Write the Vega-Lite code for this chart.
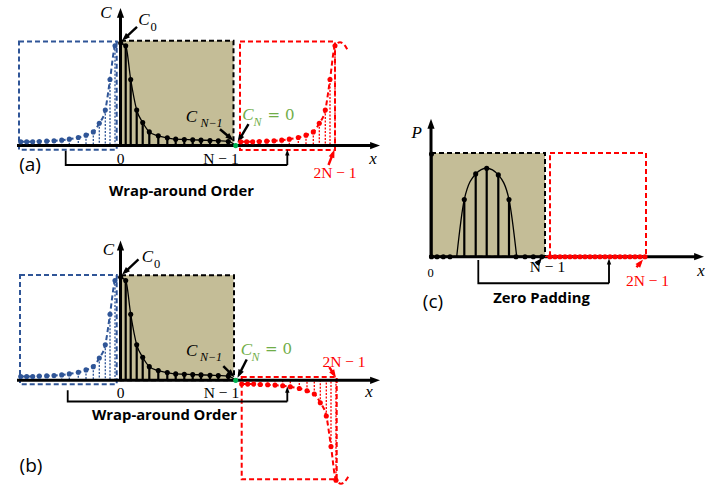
{
  "$schema": "https://vega.github.io/schema/vega-lite/v6.json",
  "width": 706,
  "height": 488,
  "autosize": {"type": "fit", "contains": "padding"},
  "padding": 0,
  "background": "white",
  "config": {"view": {"stroke": null}},
  "datasets": {
    "tan": [
      {"x": 121, "x2": 233.5, "y": 41, "y2": 146.5},
      {"x": 121, "x2": 233.5, "y": 277, "y2": 382.7},
      {"x": 431, "x2": 545, "y": 154, "y2": 258.3}
    ],
    "boxes": [
      {"s": "b", "x": 19, "x2": 116.7, "y": 41.7, "y2": 150.7},
      {"s": "k", "x": 121, "x2": 233.5, "y": 41, "y2": 146.5},
      {"s": "r", "x": 240, "x2": 335, "y": 41.7, "y2": 151},
      {"s": "b", "x": 20, "x2": 116.7, "y": 276.7, "y2": 386.7},
      {"s": "k", "x": 121, "x2": 234, "y": 277, "y2": 382.7},
      {"s": "r", "x": 241.7, "x2": 336.7, "y": 379.3, "y2": 482.3},
      {"s": "k", "x": 431, "x2": 545, "y": 154, "y2": 258.3},
      {"s": "r", "x": 550, "x2": 646, "y": 154, "y2": 258.3}
    ],
    "samples": [
      {"p": "a", "s": "b", "x": 20.7, "y": 142.7, "b": 146.5},
      {"p": "a", "s": "b", "x": 26.7, "y": 142.7, "b": 146.5},
      {"p": "a", "s": "b", "x": 32.7, "y": 142.7, "b": 146.5},
      {"p": "a", "s": "b", "x": 39.3, "y": 142.3, "b": 146.5},
      {"p": "a", "s": "b", "x": 46.7, "y": 142, "b": 146.5},
      {"p": "a", "s": "b", "x": 54, "y": 141.7, "b": 146.5},
      {"p": "a", "s": "b", "x": 61.7, "y": 141, "b": 146.5},
      {"p": "a", "s": "b", "x": 69.3, "y": 140, "b": 146.5},
      {"p": "a", "s": "b", "x": 78.3, "y": 138.3, "b": 146.5},
      {"p": "a", "s": "b", "x": 86, "y": 136, "b": 146.5},
      {"p": "a", "s": "b", "x": 93.3, "y": 132.7, "b": 146.5},
      {"p": "a", "s": "b", "x": 99.3, "y": 124, "b": 146.5},
      {"p": "a", "s": "b", "x": 105.3, "y": 110.7, "b": 146.5},
      {"p": "a", "s": "b", "x": 110, "y": 80, "b": 146.5},
      {"p": "a", "s": "b", "x": 115, "y": 46, "b": 146.5},
      {"p": "a", "s": "b", "x": 118, "y": 42, "e": 1},
      {"p": "a", "s": "k", "x": 120.7, "y": 43.3, "b": 146.5},
      {"p": "a", "s": "k", "x": 125.7, "y": 46, "b": 146.5},
      {"p": "a", "s": "k", "x": 130.7, "y": 80, "b": 146.5},
      {"p": "a", "s": "k", "x": 136.7, "y": 110.7, "b": 146.5},
      {"p": "a", "s": "k", "x": 142.7, "y": 123.3, "b": 146.5},
      {"p": "a", "s": "k", "x": 149.3, "y": 132.7, "b": 146.5},
      {"p": "a", "s": "k", "x": 158.3, "y": 136.7, "b": 146.5},
      {"p": "a", "s": "k", "x": 167.3, "y": 138.7, "b": 146.5},
      {"p": "a", "s": "k", "x": 175.7, "y": 140, "b": 146.5},
      {"p": "a", "s": "k", "x": 184.3, "y": 140.3, "b": 146.5},
      {"p": "a", "s": "k", "x": 192.7, "y": 140.7, "b": 146.5},
      {"p": "a", "s": "k", "x": 201, "y": 141, "b": 146.5},
      {"p": "a", "s": "k", "x": 210, "y": 141.3, "b": 146.5},
      {"p": "a", "s": "k", "x": 218.3, "y": 141.7, "b": 146.5},
      {"p": "a", "s": "k", "x": 228.3, "y": 142.3, "b": 146.5},
      {"p": "a", "s": "k", "x": 235.7, "y": 146.3, "e": 1},
      {"p": "a", "s": "g", "x": 235.7, "y": 146.5, "b": 146.5},
      {"p": "a", "s": "r", "x": 240.7, "y": 142.7, "b": 146.5},
      {"p": "a", "s": "r", "x": 246.7, "y": 142.7, "b": 146.5},
      {"p": "a", "s": "r", "x": 252.7, "y": 142.7, "b": 146.5},
      {"p": "a", "s": "r", "x": 259.3, "y": 142.3, "b": 146.5},
      {"p": "a", "s": "r", "x": 266.7, "y": 142, "b": 146.5},
      {"p": "a", "s": "r", "x": 274, "y": 141.7, "b": 146.5},
      {"p": "a", "s": "r", "x": 281.7, "y": 141, "b": 146.5},
      {"p": "a", "s": "r", "x": 289.3, "y": 140, "b": 146.5},
      {"p": "a", "s": "r", "x": 298.3, "y": 138.3, "b": 146.5},
      {"p": "a", "s": "r", "x": 306, "y": 136, "b": 146.5},
      {"p": "a", "s": "r", "x": 313.3, "y": 132.7, "b": 146.5},
      {"p": "a", "s": "r", "x": 319.3, "y": 124, "b": 146.5},
      {"p": "a", "s": "r", "x": 325.3, "y": 110.7, "b": 146.5},
      {"p": "a", "s": "r", "x": 330, "y": 80, "b": 146.5},
      {"p": "a", "s": "r", "x": 335, "y": 46, "b": 146.5},
      {"p": "a", "s": "r", "x": 340, "y": 42.5, "e": 1},
      {"p": "a", "s": "r", "x": 345, "y": 46, "e": 1},
      {"p": "a", "s": "r", "x": 348.5, "y": 52, "e": 1},

      {"p": "b", "s": "b", "x": 20.7, "y": 378.9, "b": 382.7},
      {"p": "b", "s": "b", "x": 26.7, "y": 378.9, "b": 382.7},
      {"p": "b", "s": "b", "x": 32.7, "y": 378.9, "b": 382.7},
      {"p": "b", "s": "b", "x": 39.3, "y": 378.5, "b": 382.7},
      {"p": "b", "s": "b", "x": 46.7, "y": 378.2, "b": 382.7},
      {"p": "b", "s": "b", "x": 54, "y": 377.9, "b": 382.7},
      {"p": "b", "s": "b", "x": 61.7, "y": 377.2, "b": 382.7},
      {"p": "b", "s": "b", "x": 69.3, "y": 376.2, "b": 382.7},
      {"p": "b", "s": "b", "x": 78.3, "y": 374.5, "b": 382.7},
      {"p": "b", "s": "b", "x": 86, "y": 372.2, "b": 382.7},
      {"p": "b", "s": "b", "x": 93.3, "y": 368.9, "b": 382.7},
      {"p": "b", "s": "b", "x": 99.3, "y": 360.2, "b": 382.7},
      {"p": "b", "s": "b", "x": 105.3, "y": 346.9, "b": 382.7},
      {"p": "b", "s": "b", "x": 110, "y": 316.2, "b": 382.7},
      {"p": "b", "s": "b", "x": 115, "y": 282.2, "b": 382.7},
      {"p": "b", "s": "b", "x": 118, "y": 278, "e": 1},
      {"p": "b", "s": "k", "x": 120.7, "y": 279, "b": 382.7},
      {"p": "b", "s": "k", "x": 125.7, "y": 282.2, "b": 382.7},
      {"p": "b", "s": "k", "x": 130.7, "y": 316.2, "b": 382.7},
      {"p": "b", "s": "k", "x": 136.7, "y": 346.9, "b": 382.7},
      {"p": "b", "s": "k", "x": 142.7, "y": 359.5, "b": 382.7},
      {"p": "b", "s": "k", "x": 149.3, "y": 368.9, "b": 382.7},
      {"p": "b", "s": "k", "x": 158.3, "y": 372.9, "b": 382.7},
      {"p": "b", "s": "k", "x": 167.3, "y": 374.9, "b": 382.7},
      {"p": "b", "s": "k", "x": 175.7, "y": 376.2, "b": 382.7},
      {"p": "b", "s": "k", "x": 184.3, "y": 376.5, "b": 382.7},
      {"p": "b", "s": "k", "x": 192.7, "y": 376.9, "b": 382.7},
      {"p": "b", "s": "k", "x": 201, "y": 377.2, "b": 382.7},
      {"p": "b", "s": "k", "x": 210, "y": 377.5, "b": 382.7},
      {"p": "b", "s": "k", "x": 218.3, "y": 377.9, "b": 382.7},
      {"p": "b", "s": "k", "x": 228.3, "y": 378.5, "b": 382.7},
      {"p": "b", "s": "k", "x": 235.7, "y": 382.5, "e": 1},
      {"p": "b", "s": "g", "x": 235.7, "y": 382.7, "b": 382.7},
      {"p": "b", "s": "r", "x": 241.7, "y": 386.5, "b": 382.7},
      {"p": "b", "s": "r", "x": 247.7, "y": 386.5, "b": 382.7},
      {"p": "b", "s": "r", "x": 253.7, "y": 386.5, "b": 382.7},
      {"p": "b", "s": "r", "x": 260.3, "y": 386.9, "b": 382.7},
      {"p": "b", "s": "r", "x": 267.7, "y": 387.2, "b": 382.7},
      {"p": "b", "s": "r", "x": 275, "y": 387.5, "b": 382.7},
      {"p": "b", "s": "r", "x": 282.7, "y": 388.2, "b": 382.7},
      {"p": "b", "s": "r", "x": 290.3, "y": 389.2, "b": 382.7},
      {"p": "b", "s": "r", "x": 299.3, "y": 390.9, "b": 382.7},
      {"p": "b", "s": "r", "x": 307, "y": 393.2, "b": 382.7},
      {"p": "b", "s": "r", "x": 314.3, "y": 396.5, "b": 382.7},
      {"p": "b", "s": "r", "x": 320.3, "y": 405.2, "b": 382.7},
      {"p": "b", "s": "r", "x": 326.3, "y": 418.5, "b": 382.7},
      {"p": "b", "s": "r", "x": 331, "y": 449.2, "b": 382.7},
      {"p": "b", "s": "r", "x": 336, "y": 483.2, "b": 382.7},
      {"p": "b", "s": "r", "x": 341, "y": 486.7, "e": 1},
      {"p": "b", "s": "r", "x": 346, "y": 483.2, "e": 1},
      {"p": "b", "s": "r", "x": 349.5, "y": 477.2, "e": 1},

      {"p": "c", "s": "k0", "x": 431.5, "y": 155, "b": 258.3},
      {"p": "c", "s": "k0", "x": 431.5, "y": 258.3, "b": 258.3},
      {"p": "c", "s": "k0", "x": 437, "y": 258.3, "b": 258.3},
      {"p": "c", "s": "k0", "x": 443.3, "y": 258.3, "b": 258.3},
      {"p": "c", "s": "k0", "x": 450, "y": 258.3, "b": 258.3},
      {"p": "c", "s": "k", "x": 456.7, "y": 258.3, "e": 1},
      {"p": "c", "s": "k", "x": 464.3, "y": 200.7, "b": 258.3},
      {"p": "c", "s": "k", "x": 475.7, "y": 175, "b": 258.3},
      {"p": "c", "s": "k", "x": 486.7, "y": 169.3, "b": 258.3},
      {"p": "c", "s": "k", "x": 498.3, "y": 176, "b": 258.3},
      {"p": "c", "s": "k", "x": 509, "y": 200.7, "b": 258.3},
      {"p": "c", "s": "k", "x": 516.7, "y": 258.3, "e": 1},
      {"p": "c", "s": "k0", "x": 516, "y": 258.3, "b": 258.3},
      {"p": "c", "s": "k0", "x": 525, "y": 258.3, "b": 258.3},
      {"p": "c", "s": "k0", "x": 533.3, "y": 258.3, "b": 258.3},
      {"p": "c", "s": "k0", "x": 541.7, "y": 258.3, "b": 258.3},
      {"p": "c", "s": "r0", "x": 550, "y": 258.3, "b": 258.3},
      {"p": "c", "s": "r0", "x": 555, "y": 258.3, "b": 258.3},
      {"p": "c", "s": "r0", "x": 560, "y": 258.3, "b": 258.3},
      {"p": "c", "s": "r0", "x": 565, "y": 258.3, "b": 258.3},
      {"p": "c", "s": "r0", "x": 570, "y": 258.3, "b": 258.3},
      {"p": "c", "s": "r0", "x": 575, "y": 258.3, "b": 258.3},
      {"p": "c", "s": "r0", "x": 580, "y": 258.3, "b": 258.3},
      {"p": "c", "s": "r0", "x": 585, "y": 258.3, "b": 258.3},
      {"p": "c", "s": "r0", "x": 590, "y": 258.3, "b": 258.3},
      {"p": "c", "s": "r0", "x": 595, "y": 258.3, "b": 258.3},
      {"p": "c", "s": "r0", "x": 600, "y": 258.3, "b": 258.3},
      {"p": "c", "s": "r0", "x": 605, "y": 258.3, "b": 258.3},
      {"p": "c", "s": "r0", "x": 610, "y": 258.3, "b": 258.3},
      {"p": "c", "s": "r0", "x": 615, "y": 258.3, "b": 258.3},
      {"p": "c", "s": "r0", "x": 620, "y": 258.3, "b": 258.3},
      {"p": "c", "s": "r0", "x": 625, "y": 258.3, "b": 258.3},
      {"p": "c", "s": "r0", "x": 630, "y": 258.3, "b": 258.3},
      {"p": "c", "s": "r0", "x": 635, "y": 258.3, "b": 258.3},
      {"p": "c", "s": "r0", "x": 640, "y": 258.3, "b": 258.3},
      {"p": "c", "s": "r0", "x": 645, "y": 258.3, "b": 258.3}
    ],
    "arrows": [
      {"s": "k", "k": "axis", "x1": 17, "y1": 146.5, "x2": 380, "y2": 146.5},
      {"s": "k", "k": "axis", "x1": 120.5, "y1": 147.5, "x2": 120.5, "y2": 8},
      {"s": "k", "k": "ptr", "x1": 137, "y1": 27, "x2": 122, "y2": 41},
      {"s": "k", "k": "ptr", "x1": 220, "y1": 130, "x2": 233.5, "y2": 141.5},
      {"s": "k", "k": "ptr", "x1": 248.5, "y1": 125, "x2": 237.5, "y2": 143.5},
      {"s": "k", "k": "brk", "x1": 287.3, "y1": 166, "x2": 287.3, "y2": 150.5},
      {"s": "r", "k": "ptr", "x1": 328.5, "y1": 166, "x2": 334.5, "y2": 150.5},
      {"s": "k", "k": "axis", "x1": 17, "y1": 382.7, "x2": 380, "y2": 382.7},
      {"s": "k", "k": "axis", "x1": 120.5, "y1": 383.5, "x2": 120.5, "y2": 242},
      {"s": "k", "k": "ptr", "x1": 138.5, "y1": 261, "x2": 122, "y2": 276.5},
      {"s": "k", "k": "ptr", "x1": 223.3, "y1": 368.3, "x2": 234.5, "y2": 379.5},
      {"s": "k", "k": "ptr", "x1": 246.7, "y1": 361.7, "x2": 237.5, "y2": 380},
      {"s": "k", "k": "brk", "x1": 287.3, "y1": 404, "x2": 287.3, "y2": 389},
      {"s": "r", "k": "ptr", "x1": 329.3, "y1": 369.3, "x2": 336, "y2": 380},
      {"s": "k", "k": "axis", "x1": 429, "y1": 258.3, "x2": 704, "y2": 258.3},
      {"s": "k", "k": "axis", "x1": 431, "y1": 259.5, "x2": 431, "y2": 119.5},
      {"s": "r", "k": "seg", "x1": 545, "y1": 258.3, "x2": 646, "y2": 258.3},
      {"s": "k", "k": "ptr", "x1": 536.5, "y1": 266, "x2": 542, "y2": 259.5},
      {"s": "r", "k": "ptr", "x1": 636.5, "y1": 269, "x2": 643, "y2": 261},
      {"s": "k", "k": "brk", "x1": 609, "y1": 285, "x2": 609, "y2": 260}
    ],
    "brackets": [
      {"id": "a", "o": 1, "x": 65.7, "y": 151.7},
      {"id": "a", "o": 2, "x": 65.7, "y": 166},
      {"id": "a", "o": 3, "x": 287.3, "y": 166},
      {"id": "b", "o": 1, "x": 67.7, "y": 392.7},
      {"id": "b", "o": 2, "x": 67.7, "y": 404},
      {"id": "b", "o": 3, "x": 287.3, "y": 404},
      {"id": "c", "o": 1, "x": 478.3, "y": 261.7},
      {"id": "c", "o": 2, "x": 478.3, "y": 285},
      {"id": "c", "o": 3, "x": 609, "y": 285}
    ],
    "texts": [
      {"x": 106, "y": 13.5, "t": "C", "f": "it", "s": "k"},
      {"x": 144, "y": 20.5, "t": "C", "f": "it", "s": "k"},
      {"x": 153.5, "y": 27, "t": "0", "f": "subr", "s": "k"},
      {"x": 191.5, "y": 117.5, "t": "C", "f": "it", "s": "k"},
      {"x": 211.5, "y": 123.5, "t": "N−1", "f": "sub", "s": "k"},
      {"x": 248, "y": 116, "t": "C", "f": "it", "s": "gt"},
      {"x": 257.5, "y": 122.5, "t": "N", "f": "sub", "s": "gt"},
      {"x": 281, "y": 115.5, "t": "= 0", "f": "eq", "s": "gt"},
      {"x": 120.5, "y": 159.5, "t": "0", "f": "num", "s": "k"},
      {"x": 221, "y": 159.5, "t": "N − 1", "f": "num", "s": "k"},
      {"x": 335, "y": 174.5, "t": "2N − 1", "f": "num", "s": "r"},
      {"x": 373, "y": 160, "t": "x", "f": "it", "s": "k"},
      {"x": 30, "y": 166.5, "t": "(a)", "f": "lab", "s": "k"},
      {"x": 181.5, "y": 193, "t": "Wrap-around Order", "f": "cap", "s": "k"},
      {"x": 108.5, "y": 251.5, "t": "C", "f": "it", "s": "k"},
      {"x": 147.5, "y": 259, "t": "C", "f": "it", "s": "k"},
      {"x": 157, "y": 265.5, "t": "0", "f": "subr", "s": "k"},
      {"x": 191.7, "y": 353, "t": "C", "f": "it", "s": "k"},
      {"x": 211, "y": 359.5, "t": "N−1", "f": "sub", "s": "k"},
      {"x": 246.5, "y": 352.5, "t": "C", "f": "it", "s": "gt"},
      {"x": 255.5, "y": 359, "t": "N", "f": "sub", "s": "gt"},
      {"x": 278.5, "y": 351.5, "t": "= 0", "f": "eq", "s": "gt"},
      {"x": 120.7, "y": 395.5, "t": "0", "f": "num", "s": "k"},
      {"x": 221.5, "y": 395.5, "t": "N − 1", "f": "num", "s": "k"},
      {"x": 344, "y": 364, "t": "2N − 1", "f": "num", "s": "r"},
      {"x": 369, "y": 394, "t": "x", "f": "it", "s": "k"},
      {"x": 31, "y": 469, "t": "(b)", "f": "lab", "s": "k"},
      {"x": 164.5, "y": 418.5, "t": "Wrap-around Order", "f": "cap", "s": "k"},
      {"x": 416.7, "y": 134, "t": "P", "f": "it", "s": "k"},
      {"x": 430.7, "y": 275, "t": "0", "f": "small", "s": "k"},
      {"x": 547.5, "y": 268.5, "t": "N − 1", "f": "num", "s": "k"},
      {"x": 647.5, "y": 282.5, "t": "2N − 1", "f": "num", "s": "r"},
      {"x": 541.5, "y": 301, "t": "Zero Padding", "f": "cap", "s": "k"},
      {"x": 433, "y": 304, "t": "(c)", "f": "lab", "s": "k"},
      {"x": 701, "y": 273, "t": "x", "f": "it", "s": "k"}
    ]
  },
  "layer": [
    {
      "data": {"name": "tan"},
      "mark": {"type": "rect", "fill": "#c4bd97"},
      "encoding": {
        "x": {"field": "x", "type": "quantitative", "scale": {"domain": [0, 706], "nice": false, "zero": false}, "axis": null},
        "x2": {"field": "x2"},
        "y": {"field": "y", "type": "quantitative", "scale": {"domain": [0, 488], "nice": false, "zero": false, "reverse": true}, "axis": null},
        "y2": {"field": "y2"}
      }
    },
    {
      "data": {"name": "samples"},
      "transform": [{"filter": "(datum.s == 'k' || datum.s == 'k0') && !datum.e"}],
      "mark": {"type": "rule", "strokeWidth": 2.2},
      "encoding": {
        "x": {"field": "x", "type": "quantitative"},
        "y": {"field": "y", "type": "quantitative"},
        "y2": {"field": "b"},
        "color": {"field": "s", "type": "nominal", "scale": {"domain": ["k", "k0", "b", "r", "r0", "g", "gt"], "range": ["#000000", "#000000", "#2f5597", "#ff0000", "#ff0000", "#00b050", "#70ad47"]}, "legend": null}
      }
    },
    {
      "data": {"name": "samples"},
      "transform": [{"filter": "(datum.s == 'b' || datum.s == 'r') && !datum.e"}],
      "mark": {"type": "rule", "strokeWidth": 1.3, "strokeDash": [2, 1.5]},
      "encoding": {
        "x": {"field": "x", "type": "quantitative"},
        "y": {"field": "y", "type": "quantitative"},
        "y2": {"field": "b"},
        "color": {"field": "s", "type": "nominal", "legend": null}
      }
    },
    {
      "data": {"name": "samples"},
      "transform": [{"filter": "datum.s == 'b' || datum.s == 'r'"}],
      "mark": {"type": "line", "interpolate": "monotone", "strokeWidth": 2, "strokeDash": [5, 3]},
      "encoding": {
        "x": {"field": "x", "type": "quantitative"},
        "y": {"field": "y", "type": "quantitative"},
        "detail": {"field": "p"},
        "color": {"field": "s", "type": "nominal", "legend": null}
      }
    },
    {
      "data": {"name": "samples"},
      "transform": [{"filter": "datum.s == 'k'"}],
      "mark": {"type": "line", "interpolate": "monotone", "strokeWidth": 1.3},
      "encoding": {
        "x": {"field": "x", "type": "quantitative"},
        "y": {"field": "y", "type": "quantitative"},
        "detail": {"field": "p"},
        "color": {"field": "s", "type": "nominal", "legend": null}
      }
    },
    {
      "data": {"name": "boxes"},
      "mark": {"type": "rect", "filled": false, "strokeWidth": 2, "strokeDash": [5, 3]},
      "encoding": {
        "x": {"field": "x", "type": "quantitative"},
        "x2": {"field": "x2"},
        "y": {"field": "y", "type": "quantitative"},
        "y2": {"field": "y2"},
        "color": {"field": "s", "type": "nominal", "legend": null}
      }
    },
    {
      "data": {"name": "brackets"},
      "mark": {"type": "line", "strokeWidth": 1.8, "color": "#000000"},
      "encoding": {
        "x": {"field": "x", "type": "quantitative"},
        "y": {"field": "y", "type": "quantitative"},
        "detail": {"field": "id"},
        "order": {"field": "o", "type": "quantitative"}
      }
    },
    {
      "data": {"name": "arrows"},
      "transform": [
        {"calculate": "sqrt(pow(datum.x2 - datum.x1, 2) + pow(datum.y2 - datum.y1, 2))", "as": "len"},
        {"calculate": "datum.k == 'axis' ? 7 : (datum.k == 'brk' ? 5 : (datum.k == 'seg' ? 0 : 4))", "as": "hl"},
        {"calculate": "datum.x2 - (datum.x2 - datum.x1) / datum.len * datum.hl", "as": "ex"},
        {"calculate": "datum.y2 - (datum.y2 - datum.y1) / datum.len * datum.hl", "as": "ey"}
      ],
      "mark": {"type": "rule"},
      "encoding": {
        "x": {"field": "x1", "type": "quantitative"},
        "y": {"field": "y1", "type": "quantitative"},
        "x2": {"field": "ex"},
        "y2": {"field": "ey"},
        "strokeWidth": {"field": "k", "type": "ordinal", "scale": {"domain": ["axis", "ptr", "brk", "seg"], "range": [3, 1.3, 1.8, 3]}, "legend": null},
        "color": {"field": "s", "type": "nominal", "legend": null}
      }
    },
    {
      "data": {"name": "arrows"},
      "transform": [
        {"filter": "datum.k != 'seg'"},
        {"calculate": "atan2(datum.x2 - datum.x1, datum.y1 - datum.y2) * 180 / PI", "as": "ang"}
      ],
      "mark": {"type": "point", "shape": "M0,0L-0.8,2.2L0.8,2.2Z", "filled": true, "opacity": 1, "strokeWidth": 0},
      "encoding": {
        "x": {"field": "x2", "type": "quantitative"},
        "y": {"field": "y2", "type": "quantitative"},
        "angle": {"field": "ang", "type": "quantitative", "scale": null},
        "size": {"field": "k", "type": "ordinal", "scale": {"domain": ["axis", "ptr", "brk"], "range": [81, 30, 49]}, "legend": null},
        "color": {"field": "s", "type": "nominal", "legend": null}
      }
    },
    {
      "data": {"name": "samples"},
      "transform": [{"filter": "!datum.e"}],
      "mark": {"type": "point", "shape": "circle", "filled": true, "opacity": 1, "size": 26, "strokeWidth": 0},
      "encoding": {
        "x": {"field": "x", "type": "quantitative"},
        "y": {"field": "y", "type": "quantitative"},
        "color": {"field": "s", "type": "nominal", "legend": null}
      }
    },
    {
      "data": {"name": "texts"},
      "transform": [{"filter": "datum.f == 'it'"}],
      "mark": {"type": "text", "font": "Liberation Serif", "fontStyle": "italic", "fontSize": 17, "align": "center", "baseline": "middle"},
      "encoding": {
        "x": {"field": "x", "type": "quantitative"},
        "y": {"field": "y", "type": "quantitative"},
        "text": {"field": "t"},
        "color": {"field": "s", "type": "nominal", "legend": null}
      }
    },
    {
      "data": {"name": "texts"},
      "transform": [{"filter": "datum.f == 'sub'"}],
      "mark": {"type": "text", "font": "Liberation Serif", "fontStyle": "italic", "fontSize": 12, "align": "center", "baseline": "middle"},
      "encoding": {
        "x": {"field": "x", "type": "quantitative"},
        "y": {"field": "y", "type": "quantitative"},
        "text": {"field": "t"},
        "color": {"field": "s", "type": "nominal", "legend": null}
      }
    },
    {
      "data": {"name": "texts"},
      "transform": [{"filter": "datum.f == 'subr'"}],
      "mark": {"type": "text", "font": "Liberation Serif", "fontSize": 12.5, "align": "center", "baseline": "middle"},
      "encoding": {
        "x": {"field": "x", "type": "quantitative"},
        "y": {"field": "y", "type": "quantitative"},
        "text": {"field": "t"},
        "color": {"field": "s", "type": "nominal", "legend": null}
      }
    },
    {
      "data": {"name": "texts"},
      "transform": [{"filter": "datum.f == 'num'"}],
      "mark": {"type": "text", "font": "Liberation Serif", "fontSize": 15.5, "align": "center", "baseline": "middle"},
      "encoding": {
        "x": {"field": "x", "type": "quantitative"},
        "y": {"field": "y", "type": "quantitative"},
        "text": {"field": "t"},
        "color": {"field": "s", "type": "nominal", "legend": null}
      }
    },
    {
      "data": {"name": "texts"},
      "transform": [{"filter": "datum.f == 'small'"}],
      "mark": {"type": "text", "font": "Liberation Serif", "fontSize": 12.5, "align": "center", "baseline": "middle"},
      "encoding": {
        "x": {"field": "x", "type": "quantitative"},
        "y": {"field": "y", "type": "quantitative"},
        "text": {"field": "t"},
        "color": {"field": "s", "type": "nominal", "legend": null}
      }
    },
    {
      "data": {"name": "texts"},
      "transform": [{"filter": "datum.f == 'eq'"}],
      "mark": {"type": "text", "font": "DejaVu Serif", "fontSize": 15, "align": "center", "baseline": "middle"},
      "encoding": {
        "x": {"field": "x", "type": "quantitative"},
        "y": {"field": "y", "type": "quantitative"},
        "text": {"field": "t"},
        "color": {"field": "s", "type": "nominal", "legend": null}
      }
    },
    {
      "data": {"name": "texts"},
      "transform": [{"filter": "datum.f == 'lab'"}],
      "mark": {"type": "text", "font": "Open Sans", "fontSize": 19, "align": "center", "baseline": "middle"},
      "encoding": {
        "x": {"field": "x", "type": "quantitative"},
        "y": {"field": "y", "type": "quantitative"},
        "text": {"field": "t"},
        "color": {"field": "s", "type": "nominal", "legend": null}
      }
    },
    {
      "data": {"name": "texts"},
      "transform": [{"filter": "datum.f == 'cap'"}],
      "mark": {"type": "text", "font": "Open Sans", "fontWeight": "bold", "fontSize": 14.8, "align": "center", "baseline": "middle"},
      "encoding": {
        "x": {"field": "x", "type": "quantitative"},
        "y": {"field": "y", "type": "quantitative"},
        "text": {"field": "t"},
        "color": {"field": "s", "type": "nominal", "legend": null}
      }
    }
  ]
}
